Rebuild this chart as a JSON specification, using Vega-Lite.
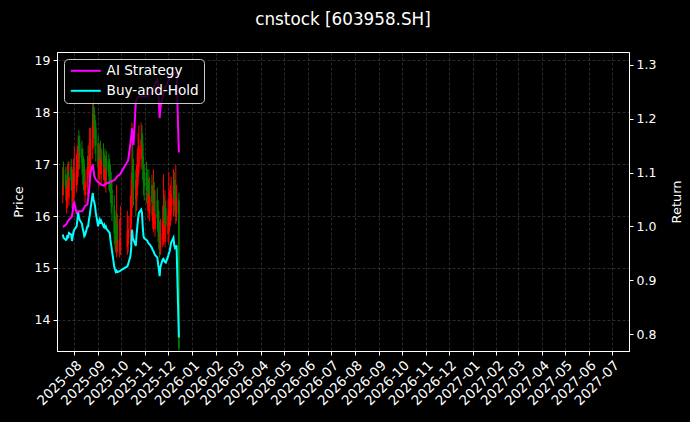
{
"$schema":"https://vega.github.io/schema/vega-lite/v6.json",
"width":572,"height":299,
"autosize":{"type":"none"},
"padding":{"left":57,"top":52,"right":61,"bottom":71},
"background":"black",
"title":{"text":"cnstock [603958.SH]","color":"white","fontSize":16.8,"font":"DejaVu Sans","fontWeight":"normal","anchor":"middle","offset":23},
"config":{
 "view":{"stroke":"white","strokeWidth":1},
 "font":"DejaVu Sans",
 "axis":{"labelColor":"white","titleColor":"white","tickColor":"white","domainColor":"white","labelFont":"DejaVu Sans","titleFont":"DejaVu Sans","labelFontSize":12.5,"titleFontSize":13,"titleFontWeight":"normal","gridColor":"#777777","gridDash":[3,2],"gridWidth":0.5,"gridOpacity":0.7,"tickSize":4,"labelPadding":3},
 "legend":{"orient":"none","legendX":7,"legendY":7,"symbolType":"M-3,0H3","symbolStrokeWidth":2,"symbolSize":100,"symbolOffset":10,"labelColor":"white","labelFontSize":13.6,"labelFont":"DejaVu Sans","fillColor":"rgba(0,0,0,0.8)","strokeColor":"#cccccc","cornerRadius":4,"padding":5,"rowPadding":5,"labelOffset":14}
},
"data":{"values":[
{"d":"2025-07-17","o":16.40,"h":16.95,"l":16.25,"c":16.69,"ai":1.000,"bh":0.985},
{"d":"2025-07-18","o":16.90,"h":17.05,"l":16.40,"c":16.58,"ai":1.000,"bh":0.979},
{"d":"2025-07-21","o":16.80,"h":16.95,"l":16.30,"c":16.52,"ai":1.003,"bh":0.975},
{"d":"2025-07-22","o":16.25,"h":16.70,"l":16.05,"c":16.53,"ai":1.005,"bh":0.976},
{"d":"2025-07-23","o":16.30,"h":17.00,"l":16.15,"c":16.67,"ai":1.008,"bh":0.984},
{"d":"2025-07-24","o":16.85,"h":17.05,"l":16.40,"c":16.57,"ai":1.010,"bh":0.978},
{"d":"2025-07-25","o":16.35,"h":17.05,"l":16.20,"c":16.74,"ai":1.012,"bh":0.988},
{"d":"2025-07-28","o":16.95,"h":17.10,"l":16.50,"c":16.69,"ai":1.017,"bh":0.985},
{"d":"2025-07-29","o":16.80,"h":16.95,"l":16.15,"c":16.48,"ai":1.019,"bh":0.973},
{"d":"2025-07-30","o":16.30,"h":16.90,"l":16.10,"c":16.64,"ai":1.030,"bh":0.982},
{"d":"2025-07-31","o":16.40,"h":17.10,"l":16.25,"c":16.77,"ai":1.042,"bh":0.990},
{"d":"2025-08-01","o":16.50,"h":17.35,"l":16.35,"c":16.84,"ai":1.044,"bh":0.994},
{"d":"2025-08-04","o":16.60,"h":17.20,"l":16.45,"c":16.94,"ai":1.025,"bh":1.000},
{"d":"2025-08-05","o":16.75,"h":17.35,"l":16.60,"c":17.14,"ai":1.026,"bh":1.012},
{"d":"2025-08-06","o":16.90,"h":17.55,"l":16.75,"c":17.36,"ai":1.028,"bh":1.025},
{"d":"2025-08-07","o":17.50,"h":17.65,"l":17.05,"c":17.25,"ai":1.027,"bh":1.018},
{"d":"2025-08-08","o":17.40,"h":17.55,"l":16.90,"c":17.14,"ai":1.028,"bh":1.012},
{"d":"2025-08-11","o":17.30,"h":17.45,"l":16.80,"c":17.02,"ai":1.028,"bh":1.005},
{"d":"2025-08-12","o":17.15,"h":17.30,"l":16.60,"c":16.86,"ai":1.030,"bh":0.995},
{"d":"2025-08-13","o":17.00,"h":17.15,"l":16.50,"c":16.77,"ai":1.032,"bh":0.990},
{"d":"2025-08-14","o":16.95,"h":17.10,"l":16.40,"c":16.64,"ai":1.035,"bh":0.982},
{"d":"2025-08-15","o":16.40,"h":16.90,"l":16.25,"c":16.67,"ai":1.038,"bh":0.984},
{"d":"2025-08-18","o":16.55,"h":17.15,"l":16.40,"c":16.94,"ai":1.041,"bh":1.000},
{"d":"2025-08-19","o":17.15,"h":17.35,"l":16.75,"c":16.94,"ai":1.050,"bh":1.000},
{"d":"2025-08-20","o":16.80,"h":17.40,"l":16.65,"c":17.14,"ai":1.065,"bh":1.012},
{"d":"2025-08-21","o":16.90,"h":17.70,"l":16.75,"c":17.28,"ai":1.080,"bh":1.020},
{"d":"2025-08-22","o":17.00,"h":17.70,"l":16.85,"c":17.47,"ai":1.100,"bh":1.031},
{"d":"2025-08-25","o":17.30,"h":18.20,"l":17.10,"c":17.99,"ai":1.115,"bh":1.062},
{"d":"2025-08-26","o":18.10,"h":18.38,"l":17.50,"c":17.79,"ai":1.105,"bh":1.050},
{"d":"2025-08-27","o":17.95,"h":18.10,"l":17.35,"c":17.70,"ai":1.093,"bh":1.045},
{"d":"2025-08-28","o":17.85,"h":17.95,"l":17.20,"c":17.57,"ai":1.090,"bh":1.037},
{"d":"2025-08-29","o":17.70,"h":17.80,"l":17.05,"c":17.36,"ai":1.087,"bh":1.025},
{"d":"2025-09-01","o":17.40,"h":17.55,"l":16.70,"c":16.94,"ai":1.082,"bh":1.000},
{"d":"2025-09-02","o":16.75,"h":17.30,"l":16.55,"c":17.08,"ai":1.081,"bh":1.008},
{"d":"2025-09-03","o":16.85,"h":17.40,"l":16.70,"c":17.14,"ai":1.080,"bh":1.012},
{"d":"2025-09-04","o":17.30,"h":17.45,"l":16.80,"c":17.02,"ai":1.078,"bh":1.005},
{"d":"2025-09-05","o":16.80,"h":17.30,"l":16.60,"c":17.11,"ai":1.077,"bh":1.010},
{"d":"2025-09-08","o":17.25,"h":17.40,"l":16.70,"c":16.94,"ai":1.076,"bh":1.000},
{"d":"2025-09-09","o":16.70,"h":17.20,"l":16.55,"c":16.99,"ai":1.077,"bh":1.003},
{"d":"2025-09-10","o":17.15,"h":17.30,"l":16.65,"c":16.91,"ai":1.078,"bh":0.998},
{"d":"2025-09-11","o":16.65,"h":17.15,"l":16.45,"c":16.94,"ai":1.079,"bh":1.000},
{"d":"2025-09-12","o":17.10,"h":17.25,"l":16.60,"c":16.86,"ai":1.080,"bh":0.995},
{"d":"2025-09-15","o":17.05,"h":17.20,"l":16.50,"c":16.77,"ai":1.081,"bh":0.990},
{"d":"2025-09-16","o":16.95,"h":17.10,"l":16.45,"c":16.74,"ai":1.082,"bh":0.988},
{"d":"2025-09-17","o":16.85,"h":17.00,"l":16.25,"c":16.52,"ai":1.083,"bh":0.975},
{"d":"2025-09-18","o":16.70,"h":16.85,"l":16.05,"c":16.35,"ai":1.083,"bh":0.965},
{"d":"2025-09-19","o":16.50,"h":16.70,"l":15.90,"c":16.18,"ai":1.084,"bh":0.955},
{"d":"2025-09-22","o":16.20,"h":16.40,"l":15.45,"c":15.67,"ai":1.086,"bh":0.925},
{"d":"2025-09-23","o":15.90,"h":16.10,"l":15.35,"c":15.58,"ai":1.087,"bh":0.920},
{"d":"2025-09-24","o":15.80,"h":16.00,"l":15.30,"c":15.52,"ai":1.089,"bh":0.916},
{"d":"2025-09-25","o":15.30,"h":16.60,"l":15.20,"c":15.55,"ai":1.091,"bh":0.918},
{"d":"2025-09-26","o":15.85,"h":16.05,"l":15.30,"c":15.50,"ai":1.093,"bh":0.915},
{"d":"2025-09-29","o":15.30,"h":15.95,"l":15.20,"c":15.53,"ai":1.096,"bh":0.917},
{"d":"2025-09-30","o":15.35,"h":16.20,"l":15.25,"c":15.55,"ai":1.098,"bh":0.918},
{"d":"2025-10-09","o":15.40,"h":16.10,"l":15.25,"c":15.69,"ai":1.120,"bh":0.926},
{"d":"2025-10-10","o":15.45,"h":16.00,"l":15.30,"c":15.75,"ai":1.122,"bh":0.930},
{"d":"2025-10-13","o":15.60,"h":16.40,"l":15.45,"c":16.01,"ai":1.154,"bh":0.945},
{"d":"2025-10-14","o":15.85,"h":16.70,"l":15.70,"c":16.26,"ai":1.165,"bh":0.960},
{"d":"2025-10-15","o":16.15,"h":17.80,"l":16.00,"c":16.84,"ai":1.182,"bh":0.994},
{"d":"2025-10-16","o":17.00,"h":17.40,"l":16.35,"c":16.60,"ai":1.160,"bh":0.980},
{"d":"2025-10-17","o":16.85,"h":17.10,"l":16.20,"c":16.52,"ai":1.151,"bh":0.975},
{"d":"2025-10-20","o":16.70,"h":16.90,"l":16.00,"c":16.33,"ai":1.231,"bh":0.964},
{"d":"2025-10-21","o":16.30,"h":17.00,"l":16.10,"c":16.69,"ai":1.235,"bh":0.985},
{"d":"2025-10-22","o":16.55,"h":17.30,"l":16.40,"c":16.94,"ai":1.238,"bh":1.000},
{"d":"2025-10-23","o":16.75,"h":17.60,"l":16.60,"c":17.19,"ai":1.240,"bh":1.015},
{"d":"2025-10-24","o":16.95,"h":17.75,"l":16.80,"c":17.36,"ai":1.241,"bh":1.025},
{"d":"2025-10-27","o":17.10,"h":17.80,"l":16.90,"c":17.47,"ai":1.241,"bh":1.031},
{"d":"2025-10-28","o":17.60,"h":17.75,"l":17.10,"c":17.36,"ai":1.241,"bh":1.025},
{"d":"2025-10-29","o":17.40,"h":17.55,"l":16.70,"c":16.94,"ai":1.241,"bh":1.000},
{"d":"2025-10-30","o":17.00,"h":17.15,"l":16.40,"c":16.64,"ai":1.241,"bh":0.982},
{"d":"2025-10-31","o":16.85,"h":17.00,"l":16.30,"c":16.57,"ai":1.241,"bh":0.978},
{"d":"2025-11-03","o":16.80,"h":17.05,"l":16.25,"c":16.52,"ai":1.241,"bh":0.975},
{"d":"2025-11-04","o":16.75,"h":16.90,"l":16.20,"c":16.48,"ai":1.242,"bh":0.973},
{"d":"2025-11-05","o":16.10,"h":16.70,"l":15.95,"c":16.43,"ai":1.243,"bh":0.970},
{"d":"2025-11-06","o":16.70,"h":16.90,"l":16.15,"c":16.40,"ai":1.244,"bh":0.968},
{"d":"2025-11-07","o":16.05,"h":16.75,"l":15.90,"c":16.38,"ai":1.245,"bh":0.967},
{"d":"2025-11-10","o":16.60,"h":16.80,"l":16.00,"c":16.26,"ai":1.248,"bh":0.960},
{"d":"2025-11-11","o":15.90,"h":16.60,"l":15.75,"c":16.19,"ai":1.250,"bh":0.956},
{"d":"2025-11-12","o":15.85,"h":16.90,"l":15.70,"c":16.16,"ai":1.255,"bh":0.954},
{"d":"2025-11-13","o":16.45,"h":16.65,"l":15.85,"c":16.09,"ai":1.260,"bh":0.950},
{"d":"2025-11-14","o":15.75,"h":16.50,"l":15.60,"c":16.04,"ai":1.265,"bh":0.947},
{"d":"2025-11-17","o":16.30,"h":16.55,"l":15.70,"c":15.96,"ai":1.272,"bh":0.942},
{"d":"2025-11-18","o":16.10,"h":16.30,"l":15.50,"c":15.75,"ai":1.260,"bh":0.930},
{"d":"2025-11-19","o":15.90,"h":16.10,"l":15.35,"c":15.58,"ai":1.230,"bh":0.920},
{"d":"2025-11-20","o":15.70,"h":15.90,"l":15.20,"c":15.38,"ai":1.201,"bh":0.908},
{"d":"2025-11-21","o":15.35,"h":15.95,"l":15.25,"c":15.67,"ai":1.220,"bh":0.925},
{"d":"2025-11-24","o":15.55,"h":16.20,"l":15.40,"c":15.91,"ai":1.241,"bh":0.939},
{"d":"2025-11-25","o":15.60,"h":16.80,"l":15.45,"c":15.92,"ai":1.245,"bh":0.940},
{"d":"2025-11-26","o":16.20,"h":16.40,"l":15.60,"c":15.86,"ai":1.250,"bh":0.936},
{"d":"2025-11-27","o":15.50,"h":16.50,"l":15.40,"c":15.82,"ai":1.255,"bh":0.934},
{"d":"2025-11-28","o":16.15,"h":16.30,"l":15.55,"c":15.81,"ai":1.260,"bh":0.933},
{"d":"2025-12-01","o":15.65,"h":16.30,"l":15.50,"c":16.01,"ai":1.270,"bh":0.945},
{"d":"2025-12-02","o":15.75,"h":16.85,"l":15.45,"c":16.09,"ai":1.272,"bh":0.950},
{"d":"2025-12-03","o":15.85,"h":16.50,"l":15.70,"c":16.16,"ai":1.275,"bh":0.954},
{"d":"2025-12-04","o":15.95,"h":16.60,"l":15.80,"c":16.30,"ai":1.278,"bh":0.962},
{"d":"2025-12-05","o":16.05,"h":16.75,"l":15.90,"c":16.43,"ai":1.280,"bh":0.970},
{"d":"2025-12-08","o":16.20,"h":16.90,"l":16.00,"c":16.58,"ai":1.283,"bh":0.979},
{"d":"2025-12-09","o":16.70,"h":16.85,"l":16.10,"c":16.35,"ai":1.284,"bh":0.965},
{"d":"2025-12-10","o":16.55,"h":16.70,"l":16.00,"c":16.26,"ai":1.285,"bh":0.960},
{"d":"2025-12-11","o":16.00,"h":16.99,"l":15.85,"c":16.30,"ai":1.285,"bh":0.962},
{"d":"2025-12-12","o":16.05,"h":16.60,"l":15.90,"c":16.35,"ai":1.283,"bh":0.965},
{"d":"2025-12-15","o":16.30,"h":16.45,"l":13.40,"c":13.45,"ai":1.137,"bh":0.794}
]},
"layer":[
 {"layer":[
  {"mark":{"type":"rule","strokeWidth":1},
   "encoding":{
    "x":{"field":"d","type":"temporal","scale":{"type":"utc","domain":[{"year":2025,"month":7,"date":16,"utc":true},{"year":2027,"month":7,"date":17,"utc":true}]},
         "axis":{"title":null,"format":"%Y-%m","tickCount":{"interval":"month","step":1},"labelAngle":-45,"labelAlign":"right","labelBaseline":"top","labelOverlap":false,"labelFlush":false,"labelFontSize":13.5,"labelDx":-6,"labelDy":-6}},
    "y":{"field":"l","type":"quantitative","scale":{"domain":[13.4,19.16],"nice":false,"zero":false},"axis":{"title":"Price","values":[14,15,16,17,18,19],"titlePadding":9}},
    "y2":{"field":"h"},
    "color":{"condition":{"test":"datum.c >= datum.o","value":"#ff0000"},"value":"#008000"}}},
  {"mark":{"type":"bar","width":1.6},
   "encoding":{
    "x":{"field":"d","type":"temporal"},
    "y":{"field":"o","type":"quantitative"},
    "y2":{"field":"c"},
    "color":{"condition":{"test":"datum.c >= datum.o","value":"#ff0000"},"value":"#008000"}}}
 ]},
 {"layer":[
  {"mark":{"type":"line","strokeWidth":2},
   "encoding":{
    "x":{"field":"d","type":"temporal"},
    "y":{"field":"ai","type":"quantitative","scale":{"domain":[0.769,1.3235],"nice":false,"zero":false},"axis":{"orient":"right","title":"Return","titleAngle":270,"titleBaseline":"bottom","values":[0.8,0.9,1.0,1.1,1.2,1.3],"format":".1f","titlePadding":28}},
    "color":{"datum":"AI Strategy","type":"nominal","scale":{"domain":["AI Strategy","Buy-and-Hold"],"range":["#ff00ff","#00ffff"]},"legend":{"title":null}}}},
  {"mark":{"type":"line","strokeWidth":2},
   "encoding":{
    "x":{"field":"d","type":"temporal"},
    "y":{"field":"bh","type":"quantitative"},
    "color":{"datum":"Buy-and-Hold","type":"nominal"}}}
 ]}
],
"resolve":{"scale":{"y":"independent"}}
}
